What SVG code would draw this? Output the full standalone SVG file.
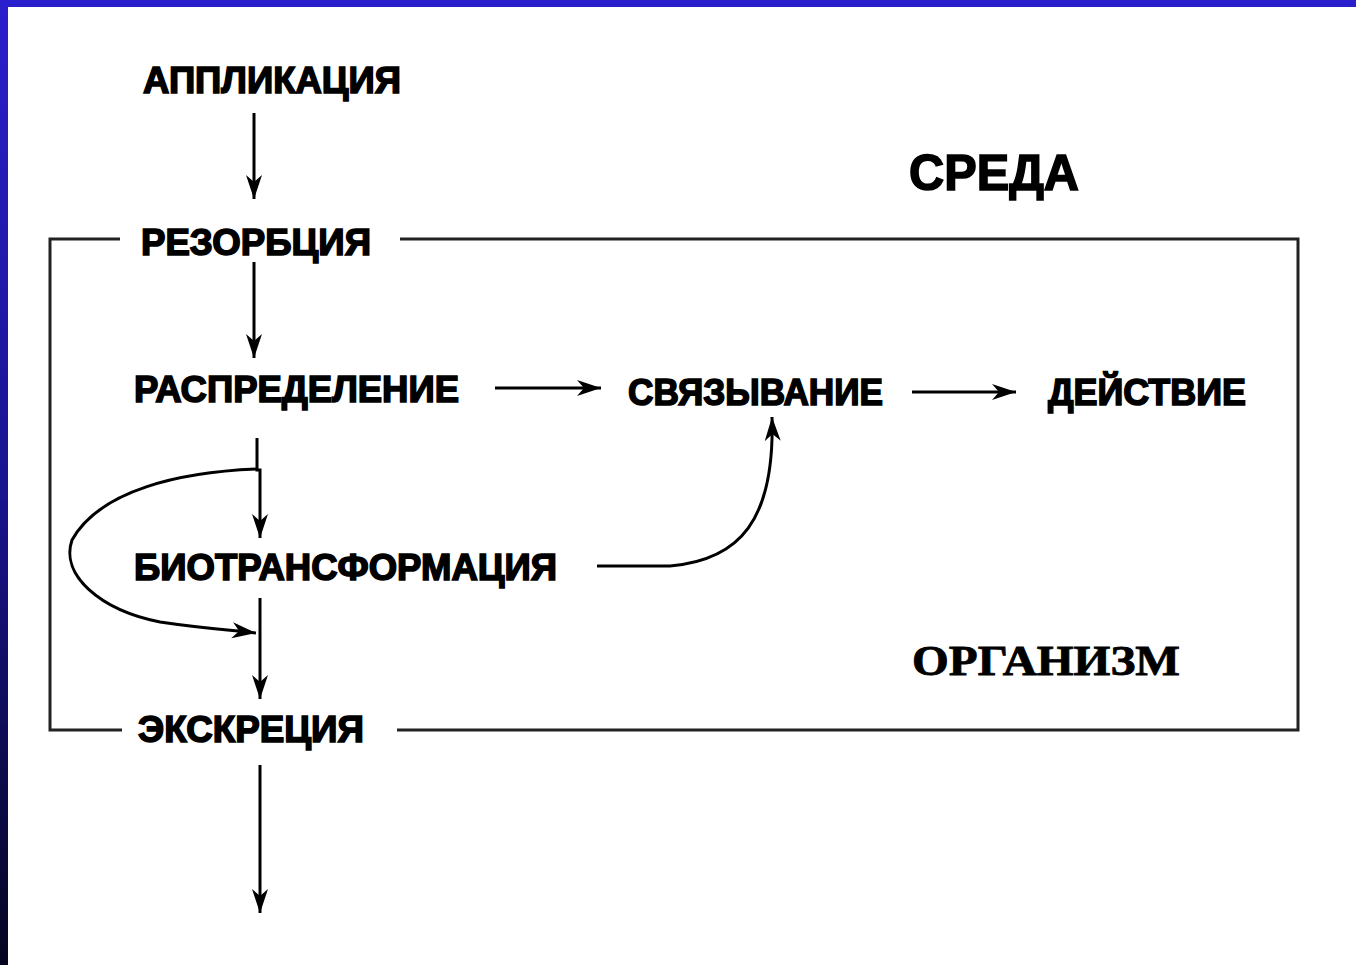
<svg xmlns="http://www.w3.org/2000/svg" width="1356" height="965" viewBox="0 0 1356 965">
<defs>
<linearGradient id="lg" x1="0" y1="0" x2="0" y2="1">
<stop offset="0" stop-color="#2a1fcc"/>
<stop offset="0.5" stop-color="#1a1490"/>
<stop offset="1" stop-color="#050520"/>
</linearGradient>
<marker id="ah" viewBox="0 0 24 18" refX="24" refY="9" markerWidth="24" markerHeight="18" markerUnits="userSpaceOnUse" orient="auto">
<path d="M0,1 L24,9 L0,17 L7,9 Z" fill="#000"/>
</marker>
<style>
.t{font-family:"Liberation Sans",Arial,sans-serif;font-weight:bold;fill:#000;stroke:#000;stroke-width:1.6;}
.n{font-size:37px;}
.c{fill:none;stroke:#000;stroke-width:3;}
.b{fill:none;stroke:#222;stroke-width:3;}
</style>
</defs>
<rect width="1356" height="965" fill="#fff"/>
<rect x="0" y="0" width="8" height="965" fill="url(#lg)"/>
<rect x="0" y="0" width="1356" height="7" fill="#2a1fcc"/>
<g id="frame">
<path class="b" d="M120,239 H50 V730 H122"/>
<path class="b" d="M400,239 H1298 V730 H397"/>
</g>
<g id="connectors">
<line class="c" x1="254" y1="113" x2="254" y2="199" marker-end="url(#ah)"/>
<line class="c" x1="254" y1="262" x2="254" y2="358" marker-end="url(#ah)"/>
<line class="c" x1="495" y1="388" x2="601" y2="388" marker-end="url(#ah)"/>
<line class="c" x1="912" y1="392" x2="1016" y2="392" marker-end="url(#ah)"/>
<path class="c" d="M257,438 V470 H260 V538" marker-end="url(#ah)"/>
<path class="c" d="M258,469 C180,472 100,490 72,540 C60,575 100,610 160,622 C200,628 230,630 256,633" marker-end="url(#ah)"/>
<path class="c" d="M597,566 H670 C740,560 775,520 772,417" marker-end="url(#ah)"/>
<line class="c" x1="260" y1="598" x2="260" y2="699" marker-end="url(#ah)"/>
<line class="c" x1="260" y1="765" x2="260" y2="913" marker-end="url(#ah)"/>
</g>
<g id="n-applikaciya"><text class="t n" x="143" y="93" textLength="258" lengthAdjust="spacingAndGlyphs">АППЛИКАЦИЯ</text></g>
<g id="n-sreda"><text class="t" x="909" y="190" font-size="50" textLength="170" lengthAdjust="spacingAndGlyphs">СРЕДА</text></g>
<g id="n-rezorbciya"><text class="t n" x="141" y="255" textLength="230" lengthAdjust="spacingAndGlyphs">РЕЗОРБЦИЯ</text></g>
<g id="n-raspredelenie"><text class="t n" x="134" y="402" textLength="325" lengthAdjust="spacingAndGlyphs">РАСПРЕДЕЛЕНИЕ</text></g>
<g id="n-svyazyvanie"><text class="t n" x="628" y="405" textLength="255" lengthAdjust="spacingAndGlyphs">СВЯЗЫВАНИЕ</text></g>
<g id="n-deystvie"><text class="t n" x="1048" y="405" textLength="198" lengthAdjust="spacingAndGlyphs">ДЕЙСТВИЕ</text></g>
<g id="n-biotransformaciya"><text class="t n" x="134" y="580" textLength="423" lengthAdjust="spacingAndGlyphs">БИОТРАНСФОРМАЦИЯ</text></g>
<g id="n-organizm"><text x="912" y="675" font-family="Liberation Serif,serif" font-weight="bold" font-size="42" stroke="#000" stroke-width="0.8" textLength="268" lengthAdjust="spacingAndGlyphs">ОРГАНИЗМ</text></g>
<g id="n-ekskreciya"><text class="t n" x="138" y="742" textLength="226" lengthAdjust="spacingAndGlyphs">ЭКСКРЕЦИЯ</text></g>
</svg>
